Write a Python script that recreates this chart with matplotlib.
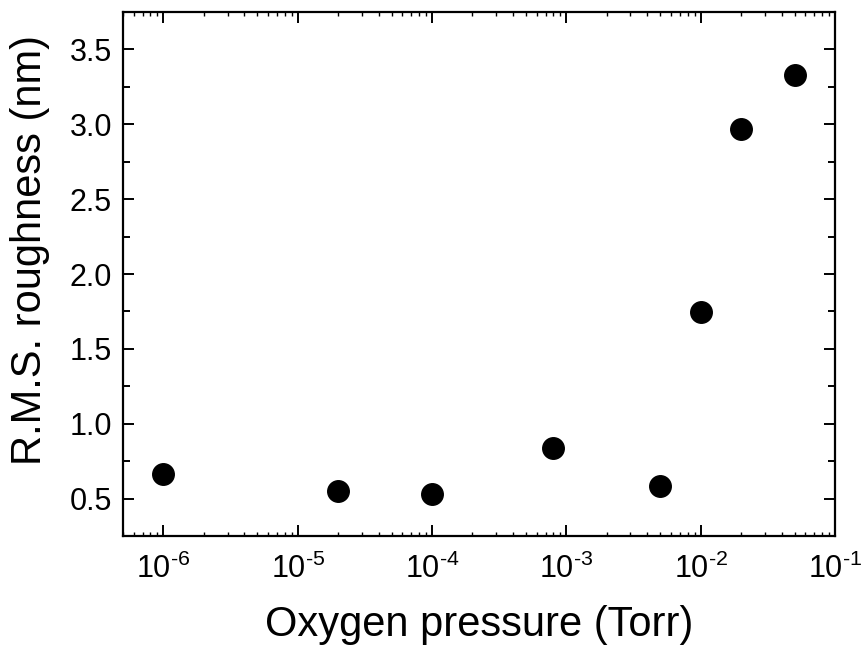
import matplotlib
matplotlib.use("Agg")
import matplotlib.pyplot as plt
from matplotlib.ticker import LogLocator, MultipleLocator, FuncFormatter, FormatStrFormatter
import numpy as np

plt.rcParams['font.family'] = ['Liberation Sans', 'DejaVu Sans']
plt.rcParams['mathtext.fontset'] = 'custom'
plt.rcParams['mathtext.rm'] = 'Liberation Sans'
plt.rcParams['mathtext.it'] = 'Liberation Sans'
plt.rcParams['axes.unicode_minus'] = False

pressure = [1e-6, 2e-5, 1e-4, 8e-4, 5e-3, 1e-2, 2e-2, 5e-2]
roughness = [0.667, 0.553, 0.533, 0.84, 0.587, 1.747, 2.967, 3.327]

fig = plt.figure(figsize=(8.62, 6.47), dpi=100)
ax = fig.add_axes([123/862, 1-536/647, (835-123)/862, (536-12)/647])

ax.plot(pressure, roughness, 'o', color='black', markersize=15.5, linestyle='none')

ax.set_xscale('log')
ax.set_xlim(5e-7, 1e-1)
ax.set_ylim(0.25, 3.75)
ax.yaxis.set_major_locator(MultipleLocator(0.5))
ax.yaxis.set_minor_locator(MultipleLocator(0.25))
ax.xaxis.set_major_locator(LogLocator(base=10, numticks=20))
ax.xaxis.set_minor_locator(LogLocator(base=10, subs=range(2, 10), numticks=20))
ax.yaxis.set_major_formatter(FormatStrFormatter('%.1f'))

def logfmt(v, pos):
    e = int(round(np.log10(v)))
    return r'10$^{\text{%d}}$' % e

ax.xaxis.set_major_formatter(FuncFormatter(logfmt))

for s in ax.spines.values():
    s.set_linewidth(1.6)

ax.tick_params(which='both', direction='in', top=True, right=True, width=1.4, labelsize=22)
ax.tick_params(which='major', length=8, pad=8)
ax.tick_params(axis='x', which='major', pad=13)
ax.tick_params(which='minor', length=5)
ax.tick_params(axis='x', which='minor', length=3, width=1.0)

ax.set_xlabel('Oxygen pressure (Torr)', fontsize=30, labelpad=14)
ax.set_ylabel('R.M.S. roughness (nm)', fontsize=30, labelpad=12)
ax.yaxis.set_label_coords(-0.103, 0.545)

fig.savefig('out.png', dpi=100)
